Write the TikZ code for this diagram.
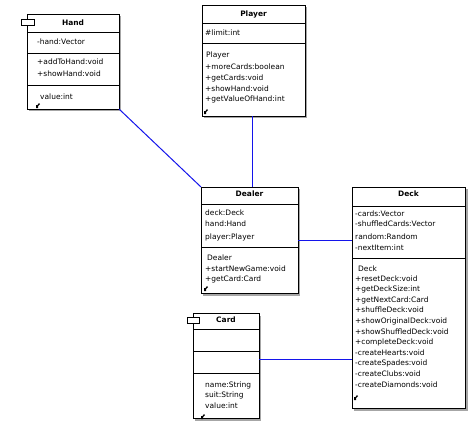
\documentclass[tikz,border=0pt]{standalone}
\usepackage{fontspec}
\setmainfont{DejaVu Sans}
\usetikzlibrary{shadows}

\definecolor{linkblue}{RGB}{20,20,235}
\tikzset{
  classbox/.style={draw, fill=white, line width=0.8pt, inner sep=0pt, outer sep=0pt,
    anchor=north west, general shadow={fill=gray!70, shadow xshift=2.5pt, shadow yshift=-2.5pt}},
  member/.style={anchor=west, inner sep=0pt, font=\fontsize{7.5}{9}\selectfont},
  heading/.style={inner sep=0pt, font=\fontsize{7.5}{9}\selectfont\bfseries},
  link/.style={draw=linkblue, line width=1bp},
  tab/.style={draw, fill=white, line width=0.8pt},
  corner/.style={fill=black}
}

\begin{document}
\begin{tikzpicture}[x=1bp,y=-1bp]
	\useasboundingbox (0,0) rectangle (473,428);

	% class boxes
	\node[classbox, minimum width=92bp, minimum height=95bp] (hand) at (27,14) {};
	\node[classbox, minimum width=103bp, minimum height=111bp] (player) at (202,5) {};
	\node[classbox, minimum width=97bp, minimum height=106bp] (dealer) at (201,187) {};
	\node[classbox, minimum width=113bp, minimum height=221bp] (deck) at (352,187) {};
	\node[classbox, minimum width=66bp, minimum height=105bp] (card) at (193,313) {};

	% connectors
	\coordinate (playerlink) at (252.5,116);
	\coordinate (cardlink) at (259,359.5);
	\draw[link] (hand.south east) -- (dealer.north west);
	\draw[link] (playerlink) -- (playerlink |- dealer.north);
	\draw[link] (dealer.east) -- (deck.west |- dealer.east);
	\draw[link] (cardlink) -- (deck.west |- cardlink);

	% Hand
	\draw[line width=0.8pt] (27,32) -- (119,32);
	\draw[line width=0.8pt] (27,53) -- (119,53);
	\draw[line width=0.8pt] (27,85) -- (119,85);
	\draw[tab] (21,19) rectangle (34,25);
	\node[heading] at (73,23) {Hand};
	\node[member] at (37,42) {-hand:Vector};
	\node[member] at (37,62) {+addToHand:void};
	\node[member] at (37,74) {+showHand:void};
	\node[member] at (40,97) {value:int};
	\fill[corner] (36,108) -- (36,105) -- (37.5,105) -- (39,103) -- (40,104) -- (38,106) -- (38,108) -- cycle;

	% Player
	\draw[line width=0.8pt] (202,23) -- (305,23);
	\draw[line width=0.8pt] (202,43) -- (305,43);
	\node[heading] at (253.5,14) {Player};
	\node[member] at (205,33) {\#limit:int};
	\node[member] at (206,55) {Player};
	\node[member] at (205,67) {+moreCards:boolean};
	\node[member] at (205,78) {+getCards:void};
	\node[member] at (205,89) {+showHand:void};
	\node[member] at (205,99) {+getValueOfHand:int};
	\fill[corner] (204,114) -- (204,111) -- (205.5,111) -- (207,109) -- (208,110) -- (206,112) -- (206,114) -- cycle;

	% Dealer
	\draw[line width=0.8pt] (201,204) -- (298,204);
	\draw[line width=0.8pt] (201,247) -- (298,247);
	\node[heading] at (249.5,194) {Dealer};
	\node[member] at (205,213) {deck:Deck};
	\node[member] at (205,224) {hand:Hand};
	\node[member] at (205,237) {player:Player};
	\node[member] at (207,258) {Dealer};
	\node[member] at (205,269) {+startNewGame:void};
	\node[member] at (205,279) {+getCard:Card};
	\fill[corner] (204,291) -- (204,288) -- (205.5,288) -- (207,286) -- (208,287) -- (206,289) -- (206,291) -- cycle;

	% Deck
	\draw[line width=0.8pt] (352,206) -- (465,206);
	\draw[line width=0.8pt] (352,258) -- (465,258);
	\node[heading] at (408.5,194) {Deck};
	\node[member] at (355,214) {-cards:Vector};
	\node[member] at (355,224) {-shuffledCards:Vector};
	\node[member] at (355,237) {random:Random};
	\node[member] at (355,248) {-nextItem:int};
	\node[member] at (358,269) {Deck};
	\node[member] at (355,279) {+resetDeck:void};
	\node[member] at (355,289) {+getDeckSize:int};
	\node[member] at (355,300) {+getNextCard:Card};
	\node[member] at (355,310) {+shuffleDeck:void};
	\node[member] at (355,321) {+showOriginalDeck:void};
	\node[member] at (355,332) {+showShuffledDeck:void};
	\node[member] at (355,342) {+completeDeck:void};
	\node[member] at (355,353) {-createHearts:void};
	\node[member] at (355,363) {-createSpades:void};
	\node[member] at (355,374) {-createClubs:void};
	\node[member] at (355,385) {-createDiamonds:void};
	\fill[corner] (354,400) -- (354,397) -- (355.5,397) -- (357,395) -- (358,396) -- (356,398) -- (356,400) -- cycle;

	% Card
	\draw[line width=0.8pt] (193,329) -- (259,329);
	\draw[line width=0.8pt] (193,351) -- (259,351);
	\draw[line width=0.8pt] (193,373) -- (259,373);
	\draw[tab] (187,317) rectangle (199,323);
	\node[heading] at (226,320) {Card};
	\node[member] at (205,385) {name:String};
	\node[member] at (205,395) {suit:String};
	\node[member] at (205,406) {value:int};
	\fill[corner] (201,419) -- (201,416) -- (202.5,416) -- (204,414) -- (205,415) -- (203,417) -- (203,419) -- cycle;

\end{tikzpicture}
\end{document}
